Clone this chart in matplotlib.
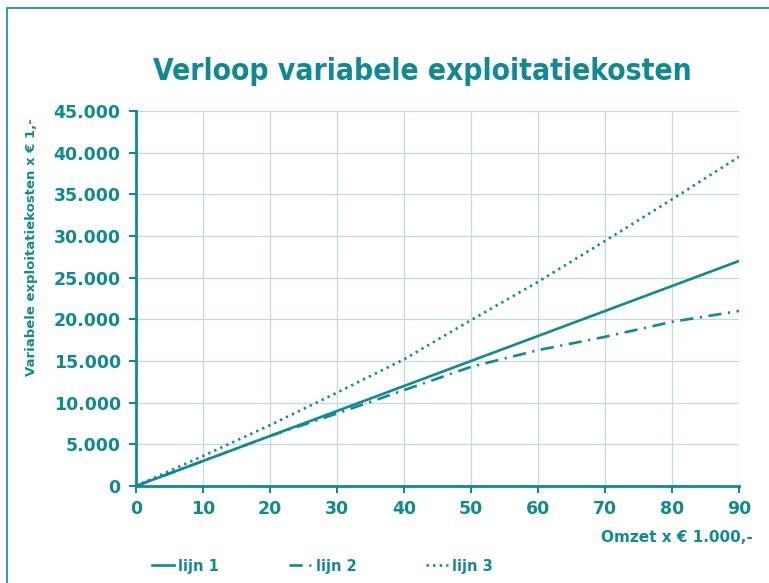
import matplotlib.pyplot as plt
from matplotlib.patches import Rectangle
from matplotlib.ticker import FuncFormatter

# omzet x EUR 1.000,-
omzet = [0, 10, 20, 30, 40, 50, 60, 70, 80, 90]
# variabele exploitatiekosten x EUR 1,-
lijn_1 = [0, 3000, 6000, 9000, 12000, 15000, 18000, 21000, 24000, 27000]
lijn_2 = [0, 3000, 6000, 8700, 11500, 14300, 16300, 17900, 19700, 21000]
lijn_3 = [0, 3600, 7300, 11200, 15200, 19900, 24500, 29400, 34400, 39500]

TEAL = "#118993"
GRID = "#c2d9df"

plt.rcParams["font.family"] = ["DejaVu Sans"]

fig = plt.figure(figsize=(7.69, 5.83), dpi=100)
ax = fig.add_axes([136 / 769, 1 - 486 / 583, 603 / 769, 375 / 583])

ax.plot(omzet, lijn_1, color=TEAL, lw=1.9, label="lijn 1")
ax.plot(omzet, lijn_2, color=TEAL, lw=1.9, dashes=(5, 2.5, 0.8, 2.5),
        label="lijn 2")
ax.plot(omzet, lijn_3, color=TEAL, lw=1.9, dashes=(0.9, 1.6), label="lijn 3")

ax.set_xlim(0, 90)
ax.set_ylim(0, 45000)
ax.set_xticks(range(0, 91, 10))
ax.set_yticks(range(0, 45001, 5000))
ax.yaxis.set_major_formatter(
    FuncFormatter(lambda v, _: f"{int(v):,}".replace(",", "."))
)
ax.grid(True, color=GRID, lw=0.9)
ax.set_axisbelow(True)

for side in ("top", "right"):
    ax.spines[side].set_visible(False)
for side in ("left", "bottom"):
    ax.spines[side].set_color(TEAL)
    ax.spines[side].set_linewidth(2.0)

ax.tick_params(axis="both", colors=TEAL, width=1.5, length=5, labelsize=12.5)
for lbl in ax.get_xticklabels() + ax.get_yticklabels():
    lbl.set_fontweight("bold")
ax.tick_params(axis="x", pad=5)
ax.tick_params(axis="y", pad=6)

fig.text(422 / 769, 1 - 72 / 583, "Verloop variabele exploitatiekosten",
         ha="center", va="center", fontsize=21.4, fontweight="bold",
         color=TEAL, fontstretch="condensed")
fig.text(753 / 769, 1 - 538 / 583, "Omzet x € 1.000,-", ha="right",
         va="center", fontsize=11, fontweight="bold", color=TEAL)
fig.text(32 / 769, 1 - 247 / 583, "Variabele exploitatiekosten x € 1,-",
         ha="center", va="center", rotation=90, fontsize=9.5,
         fontweight="bold", color=TEAL)

leg = fig.legend(loc="center left", bbox_to_anchor=(139 / 769, 1 - 566 / 583),
                 ncol=3, frameon=False, handlelength=1.5, handletextpad=0.3,
                 columnspacing=4.8, prop={"weight": "bold", "size": 10.5})
for t in leg.get_texts():
    t.set_color(TEAL)

fig.patches.append(Rectangle((7 / 769, -0.1), 1.2, 1.1 - 8 / 583,
                             transform=fig.transFigure, fill=False,
                             edgecolor=TEAL, lw=1.2))

fig.savefig("out.png", dpi=100)
